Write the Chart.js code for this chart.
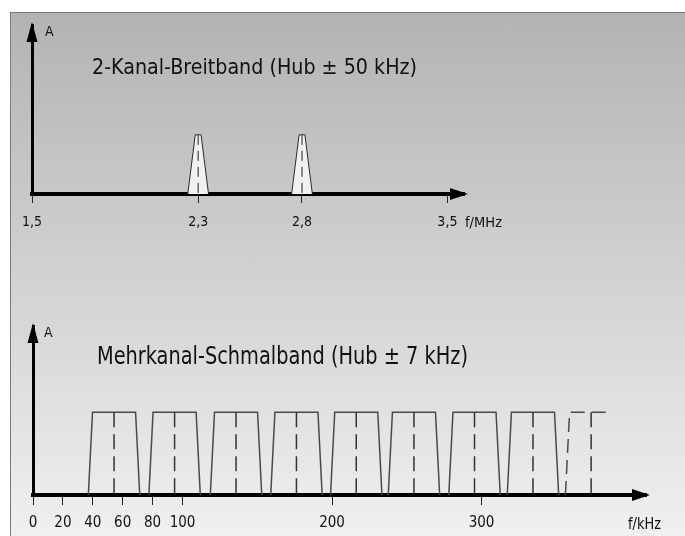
<!DOCTYPE html>
<html>
<head>
<meta charset="utf-8">
<script src="https://cdn.jsdelivr.net/npm/chart.js@4.4.1/dist/chart.umd.min.js"></script>
<style>
  body { margin: 0; background: #fff; }
  #page { position: relative; width: 685px; height: 536px; overflow: hidden; }
  #frame {
    position: absolute; left: 10px; top: 12px; width: 700px; height: 540px;
    border: 1px solid #7a7a7a;
    background: linear-gradient(to bottom, #b3b3b3 0px, #f0f0f0 524px);
  }
  canvas { position: absolute; left: 0; }
  #wideChart { top: 0; }
  #narrowChart { top: 260px; }
</style>
</head>
<body>
<div id="page">
  <div id="frame"></div>
  <canvas id="wideChart" width="685" height="260"></canvas>
  <canvas id="narrowChart" width="685" height="276"></canvas>
</div>
<script>
// 2-Kanal-Breitband, values in MHz
const wideTicks = [1.5, 2.3, 2.8, 3.5];
const wideCarriers = [2.3, 2.8];
const wideFoot = 0.05;    // half width at the axis (Hub +-50 kHz)
const wideTop = 0.014;    // half width at the top
const wideLevel = 0.35;

// Mehrkanal-Schmalband, values in kHz
const narrowTicks = [0, 20, 40, 60, 80, 100, 200, 300];
const narrowCarriers = [54.2, 94.7, 135.8, 176.2, 216.2, 254.8, 295.3, 334.4];
const narrowFoot = 17.2;
const narrowTop = 14.4;
const narrowLevel = 0.49;
const nextCarrier = 373.3;   // the dashed one at the end
const nextTopEnd = 384;

const FONT = "'DejaVu Sans Condensed', 'Liberation Sans Narrow', 'Liberation Sans', sans-serif";

function trapezoid(c, foot, top, level) {
    return [
        { x: c - foot, y: 0 },
        { x: c - top, y: level },
        { x: c + top, y: level },
        { x: c + foot, y: 0 }
    ];
}

function centreLine(c, level, color, width, dash) {
    return {
        data: [{ x: c, y: level }, { x: c, y: 0 }],
        borderColor: color,
        borderWidth: width,
        borderDash: dash,
        pointRadius: 0,
        fill: false,
        order: 0
    };
}

function axisX(min, max, ticks, size, tickLen, pad, height) {
    return {
        type: "linear",
        min: min,
        max: max,
        afterBuildTicks: s => { s.ticks = ticks.map(v => ({ value: v })); },
        afterFit: s => { s.height = height; },
        grid: { display: true, drawOnChartArea: false, drawTicks: true, tickLength: tickLen, tickColor: "#222", tickWidth: 1 },
        border: { display: true, color: "#000", width: 4 },
        ticks: {
            color: "#111",
            font: { family: FONT, size: size },
            padding: pad,
            maxRotation: 0,
            autoSkip: false,
            callback: v => String(v).replace(".", ",")
        }
    };
}

const axisY = {
    type: "linear",
    min: 0,
    max: 1,
    display: true,
    ticks: { display: false },
    grid: { display: false, drawTicks: false },
    border: { display: true, color: "#000", width: 3 },
    afterFit: s => { s.width = 0; }
};

// arrow heads on both axes
const arrows = {
    id: "arrows",
    afterDraw(chart) {
        const ctx = chart.ctx;
        const a = chart.chartArea;
        ctx.save();
        ctx.fillStyle = "#000";
        ctx.beginPath();
        ctx.moveTo(a.right + 4, a.bottom);
        ctx.lineTo(a.right - 14, a.bottom - 6);
        ctx.lineTo(a.right - 14, a.bottom + 6);
        ctx.closePath();
        ctx.fill();
        ctx.beginPath();
        ctx.moveTo(a.left, a.top - 3);
        ctx.lineTo(a.left - 5.5, a.top + 17);
        ctx.lineTo(a.left + 5.5, a.top + 17);
        ctx.closePath();
        ctx.fill();
        ctx.restore();
    }
};

// titles and axis names; a width squeezes the text to that width
function textPlugin(items) {
    return {
        id: "texts",
        afterDraw(chart) {
            const ctx = chart.ctx;
            items.forEach(t => {
                ctx.save();
                ctx.font = t.size + "px " + FONT;
                ctx.fillStyle = "#111";
                ctx.textBaseline = "alphabetic";
                ctx.translate(t.x, t.y);
                if (t.width) {
                    ctx.scale(t.width / ctx.measureText(t.text).width, 1);
                }
                ctx.fillText(t.text, 0, 0);
                ctx.restore();
            });
        }
    };
}

const common = {
    responsive: false,
    animation: false,
    events: [],
    elements: { line: { tension: 0 }, point: { radius: 0 } },
    plugins: { legend: { display: false }, tooltip: { enabled: false } }
};

// top chart
let wideSets = wideCarriers.map(c => ({
    data: trapezoid(c, wideFoot, wideTop, wideLevel),
    borderColor: "#2a2a2a",
    borderWidth: 1,
    backgroundColor: "#f1f1f1",
    fill: "origin",
    pointRadius: 0,
    order: 1
}));
wideCarriers.forEach(c => wideSets.push(centreLine(c, wideLevel, "#222", 1, [10, 6])));

new Chart(document.getElementById("wideChart"), {
    type: "line",
    data: { datasets: wideSets },
    options: Object.assign({}, common, {
        layout: { padding: { left: 32, right: 221, top: 25, bottom: 26 } },
        scales: {
            x: axisX(1.5, 3.58, wideTicks, 14, 9, 11, 40),
            y: axisY
        }
    }),
    plugins: [arrows, textPlugin([
        { text: "2-Kanal-Breitband (Hub \u00b1 50 kHz)", x: 92, y: 73.5, size: 21, width: 325 },
        { text: "A", x: 45, y: 36, size: 14 },
        { text: "f/MHz", x: 465, y: 226.5, size: 14, width: 37 }
    ])]
});

// bottom chart
let narrowSets = narrowCarriers.map(c => ({
    data: trapezoid(c, narrowFoot, narrowTop, narrowLevel),
    borderColor: "#4a4a4a",
    borderWidth: 1.5,
    fill: false,
    pointRadius: 0,
    order: 1
}));
narrowCarriers.forEach(c => narrowSets.push(centreLine(c, narrowLevel, "#333", 1.5, [15, 7])));
narrowSets.push({
    data: [
        { x: nextCarrier - narrowFoot, y: 0 },
        { x: nextCarrier - narrowTop, y: narrowLevel },
        { x: nextTopEnd, y: narrowLevel }
    ],
    borderColor: "#4a4a4a",
    borderWidth: 1.5,
    borderDash: [14, 7],
    fill: false,
    pointRadius: 0,
    order: 1
});
narrowSets.push(centreLine(nextCarrier, narrowLevel, "#333", 1.5, [15, 7]));

new Chart(document.getElementById("narrowChart"), {
    type: "line",
    data: { datasets: narrowSets },
    options: Object.assign({}, common, {
        layout: { padding: { left: 33, right: 39, top: 66, bottom: 5 } },
        scales: {
            x: axisX(0, 410, narrowTicks, 15, 10, 9, 36),
            y: axisY
        }
    }),
    plugins: [arrows, textPlugin([
        { text: "Mehrkanal-Schmalband (Hub \u00b1 7 kHz)", x: 97, y: 103.5, size: 25, width: 371 },
        { text: "A", x: 44, y: 77, size: 14 },
        { text: "f/kHz", x: 628, y: 268.5, size: 15, width: 33 }
    ])]
});
</script>
</body>
</html>
